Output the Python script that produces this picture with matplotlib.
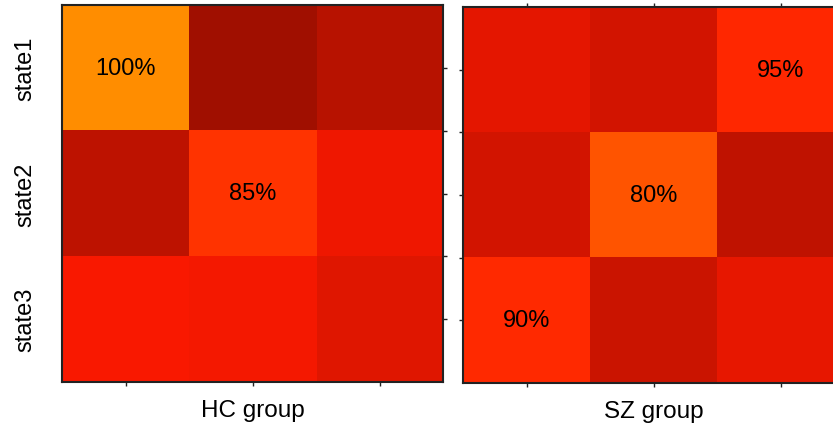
import numpy as np
import matplotlib
matplotlib.use("Agg")
import matplotlib.pyplot as plt
from matplotlib.colors import LinearSegmentedColormap
from matplotlib.transforms import blended_transform_factory

plt.rcParams["font.family"] = ["Liberation Sans", "DejaVu Sans"]

# Cell intensities (0-1 on a hot-like colormap), rows = state1..state3
states = ["state1", "state2", "state3"]
hc_values = [
    [0.555, 0.223, 0.259],
    [0.268, 0.407, 0.340],
    [0.357, 0.350, 0.319],
]
sz_values = [
    [0.326, 0.298, 0.389],
    [0.300, 0.464, 0.271],
    [0.392, 0.289, 0.330],
]
# Annotated cells: (row, col, label)
hc_labels = [(0, 0, "100%"), (1, 1, "85%")]
sz_labels = [(0, 2, "95%"), (1, 1, "80%"), (2, 0, "90%")]

# hot colormap with a touch of green in the red part
cmap = LinearSegmentedColormap("hot2", {
    "red": [(0, 0.04, 0.04), (0.365, 1, 1), (1, 1, 1)],
    "green": [(0, 0, 0), (0.365, 0.1, 0.1), (0.746, 1, 1), (1, 1, 1)],
    "blue": [(0, 0, 0), (0.746, 0, 0), (1, 1, 1)],
})

fig = plt.figure(figsize=(8.33, 4.27), dpi=100)
ax1 = fig.add_axes([62 / 833, 44 / 427, 381 / 833, 377 / 427])
ax2 = fig.add_axes([463 / 833, 43 / 427, 381 / 833, 376 / 427])

for ax, vals, labels, name in [
    (ax1, hc_values, hc_labels, "HC group"),
    (ax2, sz_values, sz_labels, "SZ group"),
]:
    ax.imshow(np.array(vals), cmap=cmap, vmin=0, vmax=1, aspect="auto",
              interpolation="nearest")
    for r, c, txt in labels:
        ax.text(c, r, txt, ha="center", va="center", fontsize=17, color="black")
    ax.set_xticks([0, 1, 2])
    ax.set_xticklabels([])
    ax.set_xlabel(name, fontsize=17.5, labelpad=6)
    for s in ax.spines.values():
        s.set_color("#222222")
        s.set_linewidth(1.5)
    ax.tick_params(direction="out", length=3, width=1, color="#222222")

# left panel: state labels on the left, ticks on the right spine
ax1.set_yticks([0, 0.5, 1, 1.5, 2])
ax1.set_yticklabels([])
ax1.tick_params(axis="y", left=False, right=True)
ax1.tick_params(axis="x", top=False, bottom=True)
trans = blended_transform_factory(ax1.transAxes, ax1.transData)
for i, st in enumerate(states):
    ax1.text(-0.097, i, st, rotation=90, ha="center", va="center",
             fontsize=17, transform=trans)

# right panel: ticks on left, top and bottom
ax2.set_yticks([0, 0.5, 1, 1.5, 2])
ax2.set_yticklabels([])
ax2.tick_params(axis="y", left=True, right=False)
ax2.tick_params(axis="x", top=True, bottom=True)

fig.savefig("out.png", dpi=100)
